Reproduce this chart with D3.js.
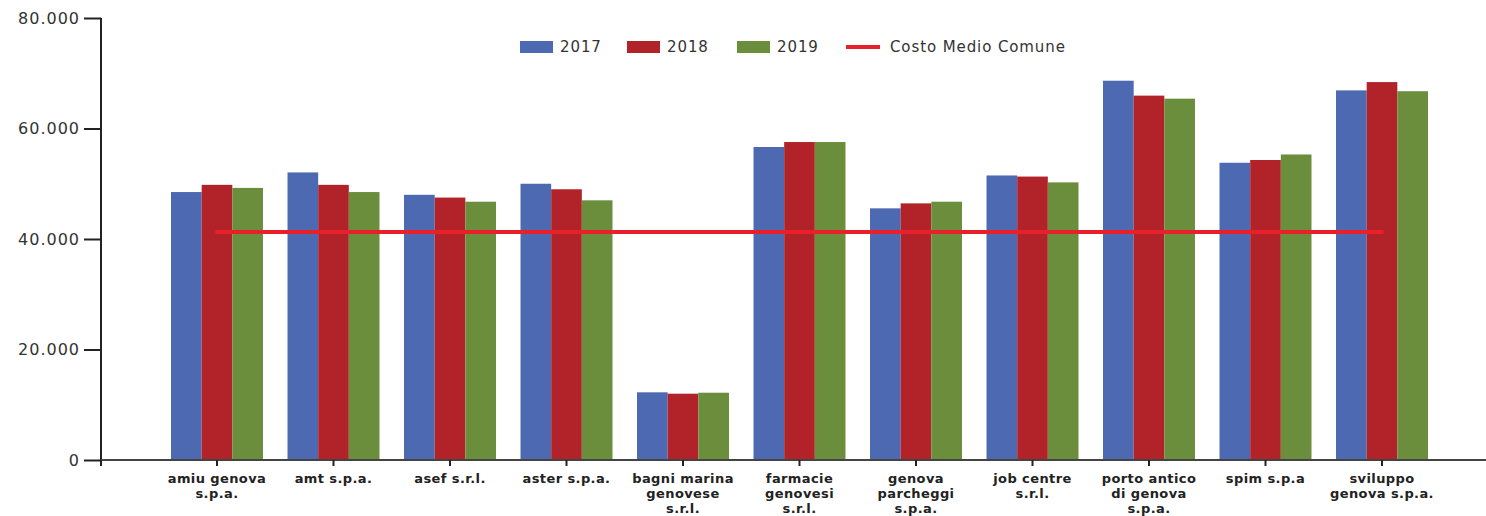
<!DOCTYPE html>
<html><head><meta charset="utf-8">
<script src="https://cdn.jsdelivr.net/npm/d3@7"></script>
<style>
body{margin:0;background:#fff;}
svg{display:block;}
text{font-family:"DejaVu Sans",Verdana,sans-serif;}
</style></head>
<body>
<svg id="chart" width="1486" height="516"></svg>
<script>
const categories = ["amiu genova s.p.a.","amt s.p.a.","asef s.r.l.","aster s.p.a.","bagni marina genovese s.r.l.","farmacie genovesi s.r.l.","genova parcheggi s.p.a.","job centre s.r.l.","porto antico di genova s.p.a.","spim s.p.a","sviluppo genova s.p.a."];
const tickLabelLines = [["amiu genova","s.p.a."],["amt s.p.a."],["asef s.r.l."],["aster s.p.a."],["bagni marina","genovese","s.r.l."],["farmacie","genovesi","s.r.l."],["genova","parcheggi","s.p.a."],["job centre","s.r.l."],["porto antico","di genova","s.p.a."],["spim s.p.a"],["sviluppo","genova s.p.a."]];
const years = ["2017","2018","2019"];
const values2017 = [48500,52050,48000,50000,12250,56650,45550,51500,68650,53800,66900];
const values2018 = [49800,49800,47500,49000,12000,57550,46450,51300,65950,54300,68400];
const values2019 = [49250,48500,46750,47000,12180,57550,46750,50250,65400,55300,66750];
const costoMedio = 41250;
const lineLabel = "Costo Medio Comune";
const yTicks = [0,20000,40000,60000,80000];
const colors = ["#4d69b1","#b12328","#6b8e3c"];
const lineColor = "#e8202a";

const series = [values2017, values2018, values2019];
const svg = d3.select("#chart");
const axisX = 101, plotTop = 18, plotBottom = 460, firstCenter = 217, step = 116.5;

const y = d3.scaleLinear().domain([0,80000]).range([plotBottom, plotTop]);
const x0 = d3.scaleBand().domain(categories)
  .range([firstCenter - step/2, firstCenter - step/2 + step*categories.length]).padding(0);
const x1 = d3.scaleBand().domain(years).range([0, x0.bandwidth()]).paddingInner(0).paddingOuter(0.4);
const loc = d3.formatLocale({decimal:",",thousands:".",grouping:[3],currency:["€",""]});
const fmt = loc.format(",.0f");

// bars
const g = svg.append("g");
categories.forEach((c,i)=>{
  years.forEach((yr,j)=>{
    g.append("rect")
      .attr("x", x0(c)+x1(yr))
      .attr("y", y(series[j][i]))
      .attr("width", x1.bandwidth())
      .attr("height", y(0)-y(series[j][i]))
      .attr("fill", colors[j]);
  });
});

// y axis
const yAxis = d3.axisLeft(y).tickValues(yTicks).tickFormat(fmt).tickSize(17).tickPadding(4);
const ya = svg.append("g").attr("transform",`translate(${axisX},0)`).call(yAxis);
ya.select(".domain").attr("stroke","#222").attr("stroke-width",2).attr("d",`M0,${plotTop}V${plotBottom}`);
ya.selectAll(".tick line").attr("stroke","#222").attr("stroke-width",2);
ya.selectAll(".tick text").attr("fill","#333").style("font-size","16px").style("letter-spacing","1px");

// x axis
const xa = svg.append("g").attr("transform",`translate(0,${plotBottom})`);
xa.append("line").attr("x1",axisX).attr("x2",1486).attr("y1",0).attr("y2",0).attr("stroke","#444").attr("stroke-width",2);
xa.append("line").attr("x1",axisX).attr("x2",axisX).attr("y1",0).attr("y2",6).attr("stroke","#222").attr("stroke-width",2);
categories.forEach((c,i)=>{
  const cx = x0(c)+x0.bandwidth()/2;
  xa.append("line").attr("x1",cx).attr("x2",cx).attr("y1",0).attr("y2",6).attr("stroke","#222").attr("stroke-width",2);
  const t = xa.append("text").attr("text-anchor","middle").attr("fill","#222")
    .style("font-size","13px").style("font-weight","bold").style("letter-spacing","0.4px");
  tickLabelLines[i].forEach((ln,k)=>{
    t.append("tspan").attr("x",cx).attr("y",23+k*15).text(ln);
  });
});

// average line
const firstC = x0(categories[0])+x0.bandwidth()/2;
const lastC = x0(categories[categories.length-1])+x0.bandwidth()/2;
svg.append("line").attr("x1",firstC).attr("x2",lastC).attr("y1",y(costoMedio)).attr("y2",y(costoMedio))
  .attr("stroke",lineColor).attr("stroke-width",4).attr("stroke-linecap","round");

// legend
const leg = svg.append("g");
const legX = [520,627,737];
years.forEach((yr,j)=>{
  leg.append("rect").attr("x",legX[j]).attr("y",41).attr("width",33).attr("height",12).attr("fill",colors[j]);
  leg.append("text").attr("x",legX[j]+40).attr("y",52).attr("fill","#333").style("font-size","15px").style("letter-spacing","0.9px").text(yr);
});
leg.append("line").attr("x1",846).attr("x2",880).attr("y1",47).attr("y2",47).attr("stroke",lineColor).attr("stroke-width",4);
leg.append("text").attr("x",890).attr("y",52).attr("fill","#333").style("font-size","15px").style("letter-spacing","0.9px").text(lineLabel);
</script>
</body></html>
